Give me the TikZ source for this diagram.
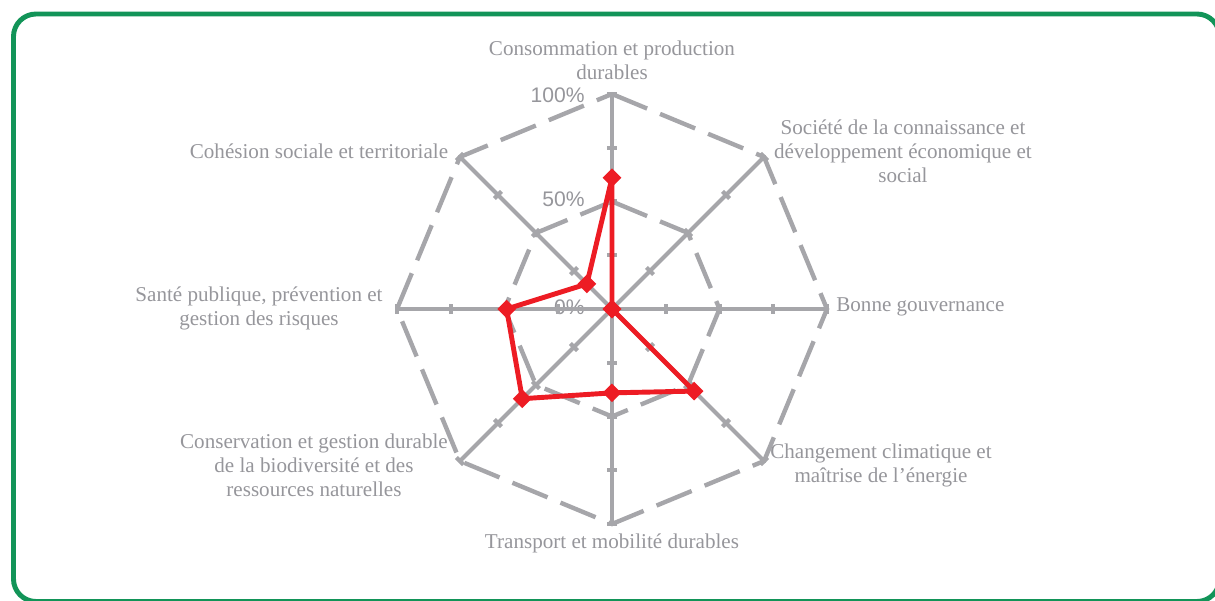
\documentclass[tikz,border=0pt]{standalone}
\usepackage{fontspec}
\setmainfont{Liberation Serif}
\newfontfamily\pctfont{Liberation Sans}
\usetikzlibrary{shapes.geometric}
\definecolor{cadre}{RGB}{18,148,88}
\definecolor{axe}{RGB}{166,166,170}
\definecolor{etiq}{RGB}{150,150,155}
\definecolor{serie}{RGB}{237,28,36}
\tikzset{
  spoke/.style={color=axe,line width=2.4pt},
  gridline/.style={color=axe,line width=2.5pt,dash pattern=on 0.76cm off 0.28cm},
  axelabel/.style={color=etiq,align=center,inner sep=0pt,font=\fontsize{12}{13.7}\selectfont},
  pct/.style={color=etiq,anchor=east,inner sep=0pt,font=\pctfont\fontsize{12}{13.7}\selectfont},
  seriesline/.style={color=serie,line width=2.8pt,line join=round},
  pt/.style={diamond,fill=serie,inner sep=0pt,minimum size=0.38cm}
}
\begin{document}
\begin{tikzpicture}
\useasboundingbox (-12.24,-5.82) rectangle (12.06,6.18);
\clip (-12.24,-5.82) rectangle (12.06,6.18);
\draw[cadre,line width=2.8pt,rounded corners=0.45cm] (-11.97,-5.85) rectangle (12.15,5.9);
% echelle
\node[pct] (l100) at (-0.54,4.28){100\%};
\node[pct] (l50) at (-0.54,2.2){50\%};
\node[pct] (l0) at (-0.54,0.04){0\%};
% axes et graduations
\foreach \a in {90,45,0,-45,-90,-135,180,135}{
  \draw[spoke] (0,0)--(\a:4.3);
  \foreach \r in {1.075,2.15,3.225,4.3} \draw[spoke] (\a:\r) ++(\a+90:0.1) -- ++(\a-90:0.2);
}
\draw[gridline] (90:4.3)--(45:4.3)--(0:4.3)--(-45:4.3)--(-90:4.3)--(-135:4.3)--(180:4.3)--(135:4.3)--cycle;
\draw[gridline] (90:2.15)--(45:2.15)--(0:2.15)--(-45:2.15)--(-90:2.15)--(-135:2.15)--(180:2.15)--(135:2.15)--cycle;
% etiquettes
\node[axelabel] (consommation) at (0,4.98){Consommation et production\\durables};
\node[axelabel] (societe) at (5.82,3.16){Société de la connaissance et\\développement économique et\\social};
\node[axelabel,anchor=west] (gouvernance) at (4.48,0.04){Bonne gouvernance};
\node[axelabel] (climat) at (5.38,-3.12){Changement climatique et\\maîtrise de l’énergie};
\node[axelabel] (transport) at (0,-4.68){Transport et mobilité durables};
\node[axelabel] (biodiversite) at (-5.96,-3.12){Conservation et gestion durable\\de la biodiversité et des\\ressources naturelles};
\node[axelabel] (sante) at (-7.06,0.02){Santé publique, prévention et\\gestion des risques};
\node[axelabel] (cohesion) at (-5.86,3.16){Cohésion sociale et territoriale};
% serie
\coordinate (v1) at (90:0.61*4.3);\coordinate (v2) at (45:0);\coordinate (v3) at (0:0);
\coordinate (v4) at (-45:0.54*4.3);\coordinate (v5) at (-90:0.39*4.3);\coordinate (v6) at (-135:0.59*4.3);
\coordinate (v7) at (180:0.49*4.3);\coordinate (v8) at (135:0.165*4.3);
\draw[seriesline] (v1)--(v2)--(v3)--(v4)--(v5)--(v6)--(v7)--(v8)--cycle;
\foreach \v in {v1,v2,v3,v4,v5,v6,v7,v8} \node[pt] (m\v) at (\v){};
\end{tikzpicture}
\end{document}
